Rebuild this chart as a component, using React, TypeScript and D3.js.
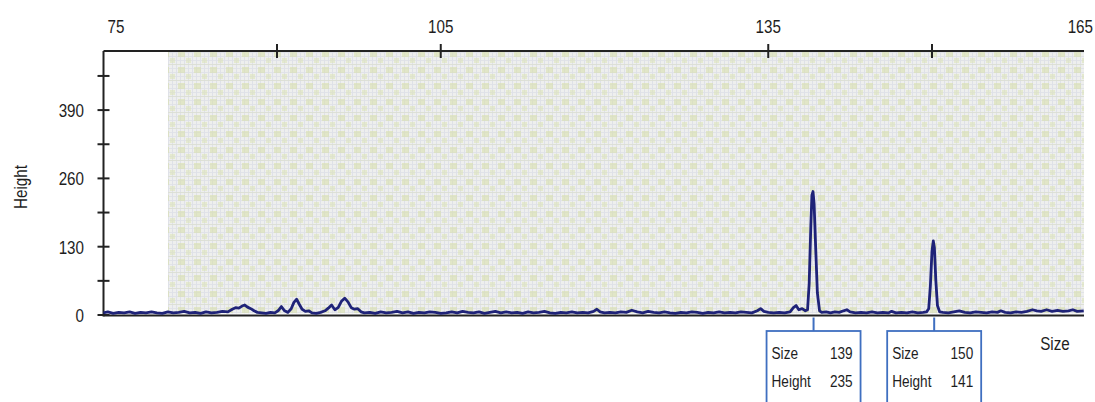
import React from "react";
import * as d3 from "d3";

const sizes = [
  74.1, 74.5, 75.0, 75.5, 76.0, 76.5, 77.0, 77.5, 78.0, 78.5, 79.0, 79.5, 80.0, 80.5, 81.0, 81.5, 82.0, 82.5, 83.0, 83.5, 84.0, 84.5, 85.0, 85.5,
  85.9, 86.2, 86.5, 86.8, 87.05, 87.3, 87.6, 87.9, 88.2, 88.6, 89.0, 89.4, 89.8, 90.1, 90.4, 90.7, 91.0, 91.3, 91.55, 91.8, 92.05, 92.3, 92.6, 92.9, 93.2, 93.6, 94.0, 94.4, 94.7, 95.0, 95.3, 95.6, 95.9, 96.2, 96.5, 96.8, 97.1, 97.4, 97.7, 98.0,
  98.5, 99.0, 99.5, 100.0, 100.5, 101.0, 101.5, 102.0, 102.5, 103.0, 103.5, 104.0, 104.5, 105.0, 105.5, 106.0, 106.5, 107.0, 107.5, 108.0, 108.5, 109.0, 109.5, 110.0, 110.5, 111.0, 111.5, 112.0, 112.5, 113.0, 113.5, 114.0, 114.5, 115.0, 115.5, 116.0, 116.5, 117.0, 117.5, 118.0, 118.5, 119.0, 119.3, 119.6, 120.0, 120.5, 121.0, 121.5, 122.0, 122.5, 123.0, 123.5, 124.0, 124.5, 125.0, 125.5, 126.0, 126.5, 127.0, 127.5, 128.0, 128.5, 129.0, 129.5, 130.0, 130.5, 131.0, 131.5, 132.0, 132.5, 133.0, 133.5, 134.0, 134.3, 134.6, 135.0, 135.5, 136.0, 136.5, 137.0, 137.3, 137.55, 137.8, 138.1, 138.4,
  138.6, 138.75, 138.9, 139.0, 139.1, 139.2, 139.35, 139.5, 139.7,
  139.9, 140.3, 140.7, 141.1, 141.5, 141.9, 142.2, 142.5, 143.0, 143.5, 144.0, 144.5, 145.0, 145.5, 146.0, 146.3, 146.7, 147.2, 147.7, 148.2, 148.7, 149.2, 149.5,
  149.7, 149.85, 150.0, 150.12, 150.22, 150.35, 150.5, 150.7,
  151.0, 151.5, 152.0, 152.5, 153.0, 153.5, 154.0, 154.5, 155.0, 155.5, 156.0, 156.3, 156.7, 157.2, 157.7, 158.2, 158.7, 159.2, 159.6, 160.0, 160.5, 161.0, 161.5, 162.0, 162.5, 162.9, 163.3, 163.9,
];

const heights = [
  4, 6, 3, 5, 4, 6, 3, 5, 4, 6, 4, 3, 6, 4, 5, 7, 4, 5, 3, 6, 4, 5, 7, 6,
  11, 14, 13, 17, 19, 15, 12, 8, 5, 4, 3, 5, 4, 8, 16, 8, 5, 12, 24, 30, 20, 11, 7, 8, 4, 3, 5, 8, 13, 19, 10, 14, 26, 32, 25, 14, 11, 12, 6, 4,
  5, 3, 6, 4, 5, 7, 4, 6, 3, 5, 4, 6, 5, 3, 4, 6, 4, 7, 5, 4, 6, 3, 5, 7, 4, 6, 4, 5, 3, 6, 4, 5, 7, 4, 3, 5, 4, 6, 4, 5, 4, 7, 11, 6, 4, 5, 4, 6, 5, 9, 6, 4, 7, 5, 4, 6, 4, 3, 5, 4, 6, 5, 3, 5, 4, 6, 4, 5, 4, 6, 5, 4, 8, 12, 7, 5, 4, 5, 4, 6, 14, 18, 10, 12, 8,
  10, 60, 170, 228, 235, 212, 125, 42, 8,
  5, 6, 4, 6, 5, 8, 10, 6, 4, 5, 4, 6, 4, 5, 4, 7, 4, 5, 4, 6, 4, 5, 6,
  12, 55, 122, 141, 128, 66, 18, 6,
  5, 4, 6, 8, 5, 4, 6, 5, 4, 6, 5, 8, 5, 4, 6, 5, 7, 10, 8, 7, 10, 7, 9, 7, 8, 10, 7, 8,
];

const topTickValues = [90, 105, 135, 150];
const topLabelValues = [75, 105, 135, 165];
const yTickValues = [0, 65, 130, 195, 260, 325, 390, 455];
const yLabelValues = [0, 130, 260, 390];

const peakCenters = [139.15, 150.2];
const peakSizeLabels = [139, 150];
const peakHeightLabels = [235, 141];

const W = 1095;
const H = 402;
const FONT = "'Liberation Sans', Arial, sans-serif";
const SQ = 0.8;

function T(props: {
  x: number;
  y: number;
  size: number;
  anchor?: "start" | "middle" | "end";
  dy?: string;
  rotate?: number;
  children: React.ReactNode;
}) {
  const { x, y, size, anchor = "start", dy, rotate = 0, children } = props;
  return (
    <text
      transform={`translate(${x},${y}) rotate(${rotate}) scale(${SQ},1)`}
      textAnchor={anchor}
      fontSize={size}
      dy={dy}
      fill="#1e1e1e"
      fontFamily={FONT}
    >
      {children}
    </text>
  );
}

export default function App() {
  const left = 103.5;
  const right = 1084;
  const top = 51;
  const bottom = 315.5;

  const x = d3.scaleLinear().domain([90, 150]).range([277, 932]);
  const y = d3.scaleLinear().domain([0, 500]).range([315, 52.3]);

  const pts: [number, number][] = sizes.map((s, i) => [s, heights[i]]);
  const line = d3
    .line<[number, number]>()
    .x((d) => x(d[0]))
    .y((d) => y(d[1]))
    .curve(d3.curveLinear);

  const shadeLeft = 168;

  return (
    <svg
      width={W}
      height={H}
      style={{ position: "absolute", left: 0, top: 0, background: "#fff" }}
    >
      <defs>
        <pattern id="fine" width="4" height="4" patternUnits="userSpaceOnUse">
          <rect width="4" height="4" fill="#eeefee" />
          <rect width="4" height="1" fill="#e1e3e8" />
          <rect width="1" height="4" fill="#dfe1e8" />
        </pattern>
        <pattern id="coarse" width="16" height="16" patternUnits="userSpaceOnUse">
          <rect width="16" height="16" fill="url(#fine)" />
          <rect x="2" y="3" width="7" height="6" fill="#d8dfad" opacity="0.6" />
          <rect x="10" y="10" width="5" height="5" fill="#dce3b6" opacity="0.55" />
          <rect x="0" y="0" width="16" height="1" fill="#d9ddc4" opacity="0.5" />
        </pattern>
      </defs>

      {/* shaded grid background */}
      <rect
        x={shadeLeft}
        y={top + 1}
        width={right - shadeLeft}
        height={bottom - top - 3}
        fill="url(#coarse)"
      />

      {/* top axis */}
      <line x1={left} x2={right} y1={top} y2={top} stroke="#222" strokeWidth={2} />
      {topTickValues.map((v) => (
        <line key={"tt" + v} x1={x(v)} x2={x(v)} y1={top - 7} y2={top + 7} stroke="#222" strokeWidth={2} />
      ))}
      {topLabelValues.map((v) => {
        const px = x(v);
        if (px > 1080) {
          return (
            <T key={"tl" + v} x={1093} y={33} size={19} anchor="end">
              {v}
            </T>
          );
        }
        return (
          <T key={"tl" + v} x={Math.max(px, 116)} y={33} size={19} anchor="middle">
            {v}
          </T>
        );
      })}

      {/* left axis */}
      <line x1={left} x2={left} y1={top} y2={bottom + 1} stroke="#222" strokeWidth={2} />
      {yTickValues.map((v) => (
        <line key={"yt" + v} x1={left - 6} x2={left + 6} y1={y(v)} y2={y(v)} stroke="#222" strokeWidth={2} />
      ))}
      {yLabelValues.map((v) => (
        <T key={"yl" + v} x={84} y={y(v)} dy="0.36em" anchor="end" size={19}>
          {v}
        </T>
      ))}
      <T x={27} y={187} rotate={-90} anchor="middle" size={19}>
        Height
      </T>

      {/* bottom axis */}
      <line x1={left} x2={right} y1={bottom} y2={bottom} stroke="#222" strokeWidth={2} />

      {/* trace */}
      <path d={line(pts) || ""} fill="none" stroke="#1f2378" strokeWidth={2.8} strokeLinejoin="round" />

      {/* x label */}
      <T x={1055} y={350} anchor="middle" size={19}>
        Size
      </T>

      {/* peak boxes */}
      {peakCenters.map((c, i) => {
        const cx = x(c);
        const bx = cx - 47;
        return (
          <g key={"pk" + i}>
            <line x1={cx} x2={cx} y1={bottom + 2} y2={331} stroke="#3f6fc0" strokeWidth={2} />
            <rect x={bx} y={331} width={94} height={90} fill="#fff" stroke="#3f6fc0" strokeWidth={1.8} />
            <T x={bx + 5} y={359} size={17}>Size</T>
            <T x={bx + 86} y={359} size={17} anchor="end">{peakSizeLabels[i]}</T>
            <T x={bx + 5} y={387} size={17}>Height</T>
            <T x={bx + 86} y={387} size={17} anchor="end">{peakHeightLabels[i]}</T>
          </g>
        );
      })}
    </svg>
  );
}
